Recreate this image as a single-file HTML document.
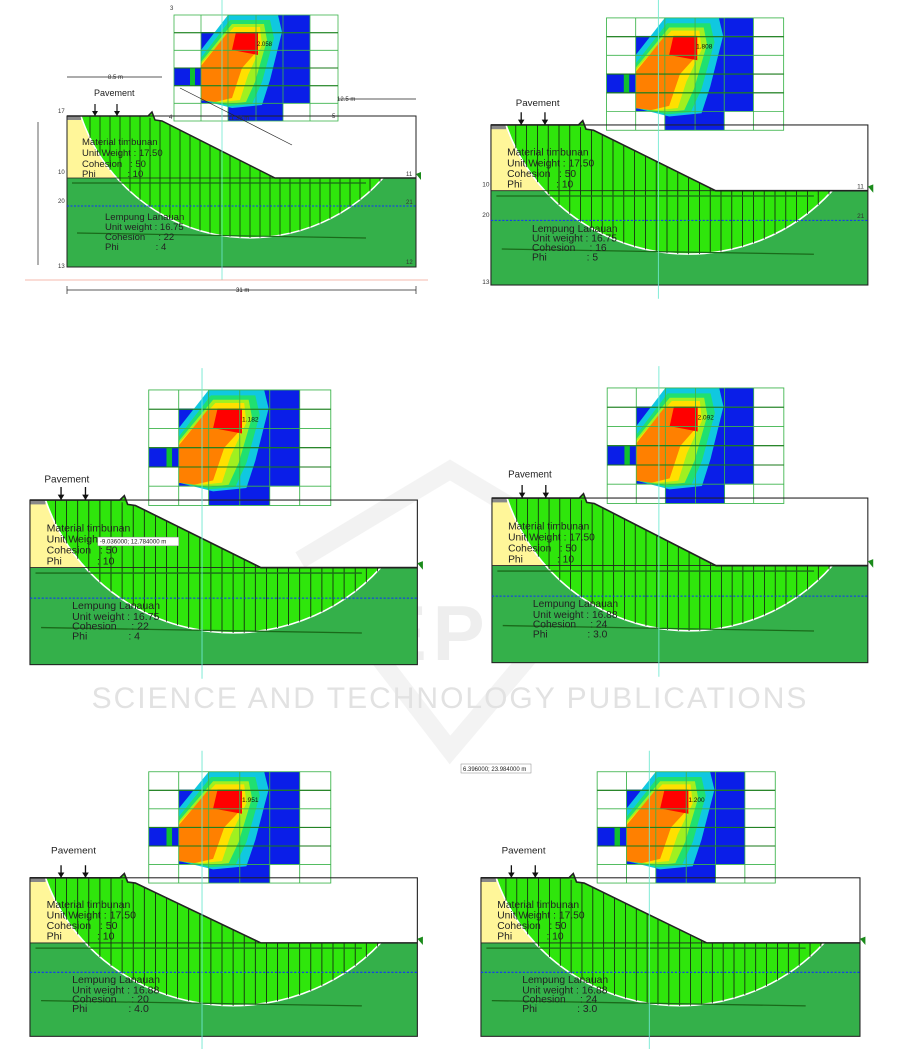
<!DOCTYPE html>
<html><head><meta charset="utf-8"><style>
body{margin:0;background:#fff}
svg{display:block}
text{font-family:"Liberation Sans",sans-serif;fill:#222}
.m{font-size:9.5px}.s{font-size:6px;fill:#333}
</style></head><body>
<svg width="901" height="1049" viewBox="0 0 901 1049" xmlns="http://www.w3.org/2000/svg">
<defs>
<g id="geo">
 <rect x="201" y="32" width="109" height="89" fill="#0a1ee8"/>
 <rect x="228" y="15" width="82" height="17" fill="#0a1ee8"/>
 <rect x="174" y="68" width="27" height="18" fill="#0a1ee8"/>
 <rect x="201" y="103" width="27" height="18" fill="#fff"/>
 <rect x="283" y="103" width="27" height="18" fill="#fff"/>
 <polygon points="201,50 228,15 278,15 282,32 270,80 262,105 232,108 201,100" fill="#10c8e0"/>
 <polygon points="201,58 230,20 270,20 274,38 262,82 252,104 230,106 201,100" fill="#20e070"/>
 <polygon points="201,62 232,24 264,24 267,40 255,82 246,102 228,104 201,100" fill="#a0f020"/>
 <polygon points="201,64 234,27 260,27 262,45 248,75 240,100 222,102 201,100" fill="#ffe000"/>
 <polygon points="201,66 228,32 257,32 258,50 242,68 232,98 215,102 201,100" fill="#ff8000"/>
 <polygon points="236,32 258,32 258,55 232,50" fill="#f00"/>
 <rect x="190" y="68" width="5" height="18" fill="#10c030"/>
 <g stroke="#3cb44b" stroke-width="0.8" fill="none">
  <rect x="174" y="15" width="164" height="106"/>
  <path d="M201,15V121M228,15V121M256,15V121M283,15V121M310,15V121M174,32.7H338M174,50.3H338M174,68H338M174,85.7H338M174,103.3H338"/>
 </g>
 <path d="M174,32.7H338M174,68H338M174,85.7H338" stroke="#1a7a1a" stroke-width="1"/>
 <rect x="67" y="178" width="349" height="89" fill="#34b04a"/>
 <polygon points="67,116 148,116 152,112 155,120 162,121 275,178 67,178" fill="#fff699"/>
 <path d="M81,116 L148,116 L152,112 L155,120 L162,121 L275,178 L383,178 A178,178 0 0 1 81,116Z" fill="#2fe60c"/>
 <rect x="67" y="116" width="14" height="4" fill="#888"/>
 <path d="M383,178 A178,178 0 0 1 81,116" fill="none" stroke="#fff" stroke-width="1.5"/>
 <path stroke="#111" stroke-width="0.7" fill="none" d="M90,116V138M100,116V155.8M110,116V169.9M120,116V181.6M130,116V191.5M140,116V199.9M150,118V207.3M160,121V213.6M170,125V219M180,130V223.7M190,135V227.6M200,140V230.8M210,145V233.4M220,150V235.5M230,155V236.9M240,160V237.7M250,165V238M260,170V237.7M270,175V236.9M280,178V235.5M290,178V233.4M300,178V230.8M310,178V227.6M320,178V223.7M330,178V219M340,178V213.6M350,178V207.3M360,178V199.9M370,178V191.5M380,178V181.6"/>
 <path d="M67,116H148L152,112L155,120L162,121L275,178H416" fill="none" stroke="#222" stroke-width="1.5"/>
 <rect x="67" y="116" width="349" height="151" fill="none" stroke="#222" stroke-width="1"/>
 <path d="M67,178H416" stroke="#222" stroke-width="0.8"/>
 <path d="M72,183H366" stroke="#1a6a1a" stroke-width="1.2"/>
 <path d="M77,233L366,238" stroke="#1a6a1a" stroke-width="1.2"/>
 <path d="M67,206H416" stroke="#1030ff" stroke-width="1" stroke-dasharray="2,1.5"/>
 <path d="M222,-5V280" stroke="#6ee8d0" stroke-width="0.8"/>
 <polygon points="416,174 421,172 421,180" fill="#1a8a1a"/>
 <path d="M95,104V116M117,104V116" stroke="#111" stroke-width="1.2"/>
 <polygon points="92,111 98,111 95,116" fill="#111"/><polygon points="114,111 120,111 117,116" fill="#111"/>
</g>
</defs>

<g opacity="0.07" fill="none" stroke="#555" stroke-width="18">
 <path d="M300,560 L450,470 L600,560"/>
 <path d="M350,620 L450,750 L560,620"/>
</g>
<text x="450" y="660" text-anchor="middle" style="font-size:78px;font-weight:bold;fill:#eee;letter-spacing:6px">SCITEPRESS</text>
<text x="450" y="708" text-anchor="middle" style="font-size:30px;fill:#e2e2e2;letter-spacing:2px">SCIENCE AND TECHNOLOGY PUBLICATIONS</text>

<g>
 <use href="#geo"/>
 <path d="M25,280H428" stroke="#f0a090" stroke-width="0.8"/>
 <path d="M67,290H416M67,286V294M416,286V294M38,122V265M67,77H162M338,99H416" stroke="#222" stroke-width="0.7"/>
 <path d="M180,88L292,145" stroke="#222" stroke-width="0.7"/>
 <text x="236" y="292" class="s" style="fill:#111">31 m</text>
 <text x="108" y="79" class="s">8.5 m</text>
 <text x="337" y="101" class="s">12.5 m</text>
 <text x="228" y="120" class="s">11.36 m</text>
 <text x="94" y="96" style="font-size:9px">Pavement</text>
 <text x="257" y="46" style="font-size:6px;fill:#111">2.058</text>
 <text x="82" y="145" class="m">Material timbunan</text>
 <text x="82" y="156" class="m">Unit Weight : 17.50</text>
 <text x="82" y="167" class="m">Cohesion&#160;&#160;&#160;: 50</text>
 <text x="82" y="177" class="m">Phi&#160;&#160;&#160;&#160;&#160;&#160;&#160;&#160;&#160;&#160;&#160;&#160;: 10</text>
 <text x="105" y="220" class="m">Lempung Lanauan</text>
 <text x="105" y="230" class="m">Unit weight : 16.75</text>
 <text x="105" y="240" class="m">Cohesion&#160;&#160;&#160;&#160;&#160;: 22</text>
 <text x="105" y="250" class="m">Phi&#160;&#160;&#160;&#160;&#160;&#160;&#160;&#160;&#160;&#160;&#160;&#160;&#160;&#160;: 4</text>
 <text x="58" y="113" class="s">17</text><text x="58" y="174" class="s">10</text><text x="58" y="203" class="s">20</text><text x="58" y="268" class="s">13</text>
 <text x="406" y="176" class="s">11</text><text x="406" y="204" class="s">21</text><text x="406" y="264" class="s">12</text>
 <text x="170" y="10" class="s">3</text><text x="169" y="119" class="s">4</text><text x="332" y="118" class="s">5</text>
</g>

<g transform="translate(418.6,2) scale(1.08,1.06)">
 <use href="#geo"/>
 <text x="90" y="98" style="font-size:9px">Pavement</text>
 <text x="257" y="44" style="font-size:6px;fill:#111">1.808</text>
 <text x="82" y="145" class="m">Material timbunan</text>
 <text x="82" y="155" class="m">Unit Weight : 17.50</text>
 <text x="82" y="165" class="m">Cohesion&#160;&#160;&#160;: 50</text>
 <text x="82" y="175" class="m">Phi&#160;&#160;&#160;&#160;&#160;&#160;&#160;&#160;&#160;&#160;&#160;&#160;: 10</text>
 <text x="105" y="217" class="m">Lempung Lanauan</text>
 <text x="105" y="226" class="m">Unit weight : 16.75</text>
 <text x="105" y="235" class="m">Cohesion&#160;&#160;&#160;&#160;&#160;: 16</text>
 <text x="105" y="244" class="m">Phi&#160;&#160;&#160;&#160;&#160;&#160;&#160;&#160;&#160;&#160;&#160;&#160;&#160;&#160;: 5</text>
 <text x="59" y="174" class="s">10</text><text x="59" y="203" class="s">20</text><text x="59" y="266" class="s">13</text>
 <text x="406" y="176" class="s">11</text><text x="406" y="204" class="s">21</text>
</g>

<g transform="translate(-44.4,373.6) scale(1.11,1.09)">
 <use href="#geo"/>
 <text x="80" y="100" style="font-size:9px">Pavement</text>
 <text x="258" y="44" style="font-size:6px;fill:#111">1.182</text>
 <text x="82" y="145" class="m">Material timbunan</text>
 <text x="82" y="155" class="m">Unit Weigh</text>
 <text x="82" y="165" class="m">Cohesion&#160;&#160;&#160;: 50</text>
 <text x="82" y="175" class="m">Phi&#160;&#160;&#160;&#160;&#160;&#160;&#160;&#160;&#160;&#160;&#160;&#160;: 10</text>
 <rect x="128" y="150" width="73" height="8" fill="#fff" stroke="#888" stroke-width="0.4"/>
 <text x="130" y="156" style="font-size:5.5px">-9.036000; 12.784000 m</text>
 <text x="105" y="216" class="m">Lempung Lanauan</text>
 <text x="105" y="226" class="m">Unit weight : 16.75</text>
 <text x="105" y="235" class="m">Cohesion&#160;&#160;&#160;&#160;&#160;: 22</text>
 <text x="105" y="244" class="m">Phi&#160;&#160;&#160;&#160;&#160;&#160;&#160;&#160;&#160;&#160;&#160;&#160;&#160;&#160;: 4</text>
</g>

<g transform="translate(419.8,371.6) scale(1.077,1.09)">
 <use href="#geo"/>
 <text x="82" y="97" style="font-size:9px">Pavement</text>
 <text x="258" y="44" style="font-size:6px;fill:#111">2.092</text>
 <text x="82" y="145" class="m">Material timbunan</text>
 <text x="82" y="155" class="m">Unit Weight : 17.50</text>
 <text x="82" y="165" class="m">Cohesion&#160;&#160;&#160;: 50</text>
 <text x="82" y="175" class="m">Phi&#160;&#160;&#160;&#160;&#160;&#160;&#160;&#160;&#160;&#160;&#160;&#160;: 10</text>
 <text x="105" y="216" class="m">Lempung Lanauan</text>
 <text x="105" y="226" class="m">Unit weight : 16.88</text>
 <text x="105" y="235" class="m">Cohesion&#160;&#160;&#160;&#160;&#160;: 24</text>
 <text x="105" y="244" class="m">Phi&#160;&#160;&#160;&#160;&#160;&#160;&#160;&#160;&#160;&#160;&#160;&#160;&#160;&#160;: 3.0</text>
</g>

<g transform="translate(-44.4,756) scale(1.11,1.05)">
 <use href="#geo"/>
 <text x="86" y="93" style="font-size:9px">Pavement</text>
 <text x="258" y="44" style="font-size:6px;fill:#111">1.951</text>
 <text x="82" y="145" class="m">Material timbunan</text>
 <text x="82" y="155" class="m">Unit Weight : 17.50</text>
 <text x="82" y="165" class="m">Cohesion&#160;&#160;&#160;: 50</text>
 <text x="82" y="175" class="m">Phi&#160;&#160;&#160;&#160;&#160;&#160;&#160;&#160;&#160;&#160;&#160;&#160;: 10</text>
 <text x="105" y="216" class="m">Lempung Lanauan</text>
 <text x="105" y="226" class="m">Unit weight : 16.88</text>
 <text x="105" y="235" class="m">Cohesion&#160;&#160;&#160;&#160;&#160;: 20</text>
 <text x="105" y="244" class="m">Phi&#160;&#160;&#160;&#160;&#160;&#160;&#160;&#160;&#160;&#160;&#160;&#160;&#160;&#160;: 4.0</text>
</g>

<rect x="461" y="764" width="70" height="9" fill="#fff" stroke="#888" stroke-width="0.5"/>
<text x="463" y="771" style="font-size:6px">6.396000; 23.984000 m</text>
<g transform="translate(408.2,756) scale(1.086,1.05)">
 <use href="#geo"/>
 <text x="86" y="93" style="font-size:9px">Pavement</text>
 <text x="258" y="44" style="font-size:6px;fill:#111">1.200</text>
 <text x="82" y="145" class="m">Material timbunan</text>
 <text x="82" y="155" class="m">Unit Weight : 17.50</text>
 <text x="82" y="165" class="m">Cohesion&#160;&#160;&#160;: 50</text>
 <text x="82" y="175" class="m">Phi&#160;&#160;&#160;&#160;&#160;&#160;&#160;&#160;&#160;&#160;&#160;&#160;: 10</text>
 <text x="105" y="216" class="m">Lempung Lanauan</text>
 <text x="105" y="226" class="m">Unit weight : 16.88</text>
 <text x="105" y="235" class="m">Cohesion&#160;&#160;&#160;&#160;&#160;: 24</text>
 <text x="105" y="244" class="m">Phi&#160;&#160;&#160;&#160;&#160;&#160;&#160;&#160;&#160;&#160;&#160;&#160;&#160;&#160;: 3.0</text>
</g>
</svg>
</body></html>
